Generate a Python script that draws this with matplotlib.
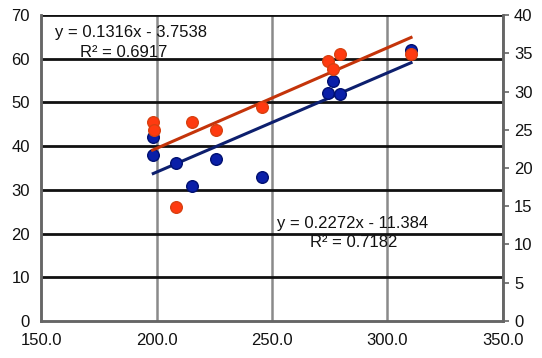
import numpy as np
import matplotlib.pyplot as plt

plt.rcParams['font.family'] = ['Liberation Sans Narrow', 'Liberation Sans', 'DejaVu Sans']

# left axis series (blue)
blue_x = [198.6, 198.6, 208.3, 215.2, 225.8, 245.5, 274.4, 276.5, 279.4, 310.2]
blue_y = [38.0, 42.0, 36.1, 30.9, 37.0, 33.0, 52.1, 54.9, 51.9, 62.0]

# right axis series (red)
red_x = [198.3, 198.9, 208.4, 215.5, 225.8, 245.8, 274.4, 276.5, 279.4, 310.2]
red_y = [26.0, 25.0, 14.9, 26.0, 25.0, 28.0, 34.0, 32.9, 34.9, 34.9]

# linear trend coefficients
blue_fit = (0.2272, -11.384, 0.7182)
red_fit = (0.1316, -3.7538, 0.6917)

fig = plt.figure(figsize=(5.42, 3.58), dpi=100)
ax = fig.add_axes([0.0757, 0.1034, 0.8523, 0.8546])
ax2 = ax.twinx()

ax.set_xlim(150, 350)
ax.set_ylim(0, 70)
ax2.set_ylim(0, 40)
ax.set_xticks(np.arange(150, 351, 50))
ax.set_xticklabels([f'{v:.1f}' for v in np.arange(150, 351, 50)])
ax.set_yticks(np.arange(0, 71, 10))
ax2.set_yticks(np.arange(0, 41, 5))

for v in np.arange(200, 351, 50):
    ax.axvline(v, color='#8a8a8a', lw=1.8, zorder=1)
for v in np.arange(10, 71, 10):
    ax.axhline(v, color='#111111', lw=2.0, zorder=1)

for a in (ax, ax2):
    for s in a.spines.values():
        s.set_color('#666666')
        s.set_linewidth(1.8)
    a.spines['top'].set_visible(False)
ax.tick_params(axis='y', length=0, labelsize=12, pad=8, colors='#111111')
ax.tick_params(axis='x', length=0, labelsize=12, pad=9, colors='#111111')
ax2.tick_params(axis='y', length=4, width=1.2, color='#666666', labelsize=12,
                pad=4, labelcolor='#111111')

ax.scatter(blue_x, blue_y, s=70, color='#0a1fa8', edgecolors='#001070',
           linewidths=1.0, zorder=4)
ax2.scatter(red_x, red_y, s=70, color='#ff3a10', edgecolors='#d84010',
            linewidths=1.0, zorder=4)

xb = np.array([min(blue_x), max(blue_x)])
ax.plot(xb, blue_fit[0] * xb + blue_fit[1], color='#0d1f6e', lw=2.2, zorder=3)
xr = np.array([min(red_x), max(red_x)])
ax2.plot(xr, red_fit[0] * xr + red_fit[1], color='#c4340a', lw=2.2, zorder=3)

ax.text(0.03, 0.944, f'y = {red_fit[0]}x - {abs(red_fit[1])}', transform=ax.transAxes,
        fontsize=12, ha='left', va='center', color='#111111', zorder=5)
ax.text(0.085, 0.879, f'R² = {red_fit[2]}', transform=ax.transAxes,
        fontsize=12, ha='left', va='center', color='#111111', zorder=5)
ax.text(0.51, 0.32, f'y = {blue_fit[0]}x - {abs(blue_fit[1])}', transform=ax.transAxes,
        fontsize=12, ha='left', va='center', color='#111111', zorder=5)
ax.text(0.582, 0.255, f'R² = {blue_fit[2]}', transform=ax.transAxes,
        fontsize=12, ha='left', va='center', color='#111111', zorder=5)

fig.savefig('out.png', dpi=100)
